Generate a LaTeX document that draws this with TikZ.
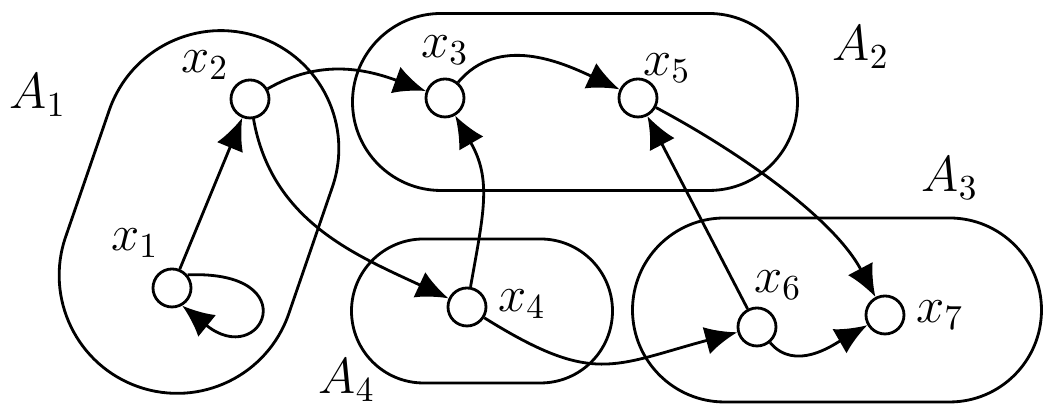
\documentclass[tikz,border=0pt]{standalone}
\usetikzlibrary{arrows.meta,shapes.misc}
\begin{document}
\begin{tikzpicture}[
    x=0.1mm, y=0.1mm,
    line width=0.8pt,
    region/.style={draw=black, rounded rectangle, inner sep=0pt},
    vertex/.style={circle, draw=black, fill=white, inner sep=0pt, minimum size=3.8mm},
    lbl/.style={font=\Large, inner sep=0pt},
    edge/.style={-{Latex[length=3.2mm, width=2.8mm]}}
]
\useasboundingbox (0,0) rectangle (1043,405);

% Sets
\node[region, minimum width=37mm, minimum height=23.6mm, rotate=71] (R1) at (199,193) {};
\node[region, minimum width=44.5mm, minimum height=17.7mm] (R2) at (575,303) {};
\node[region, minimum width=40.9mm, minimum height=18.4mm] (R3) at (837,95) {};
\node[region, minimum width=26.1mm, minimum height=14.4mm] (R4) at (482,94) {};

\node[lbl] (A1) at (38,310) {$A_1$};
\node[lbl] (A2) at (861,358) {$A_2$};
\node[lbl] (A3) at (950,227) {$A_3$};
\node[lbl] (A4) at (347,25) {$A_4$};

% Vertices
\foreach \name/\x/\y in {x1/172/117, x2/250/306, x3/445/307, x4/467/98,
                         x5/638/307, x6/757/78, x7/885/90} {
    \node[vertex] (\name) at (\x,\y) {};
}

\node[lbl] (l1) at (135,162) {$x_1$};
\node[lbl] (l2) at (205,340) {$x_2$};
\node[lbl] (l3) at (445,355) {$x_3$};
\node[lbl] (l4) at (522,101) {$x_4$};
\node[lbl] (l5) at (667,337) {$x_5$};
\node[lbl] (l6) at (778,120) {$x_6$};
\node[lbl] (l7) at (940,90) {$x_7$};

% Arcs
\draw[edge] (x1) -- (x2);
\draw[edge] (x1.40) .. controls +(120,5) and +(80,-65) .. (x1.-60);
\draw[edge] (x2) to[out=30, in=160] (x3);
\draw[edge] (x2) to[out=-80, in=155] (x4);
\draw[edge] (x3) to[out=50, in=155] (x5);
\draw[edge] (x4) to[out=80, in=-60, looseness=1.1] (x3);
\draw[edge] (x6) -- (x5);
\draw[edge] (x5) to[out=-28, in=118, looseness=0.8] (x7);
\draw[edge] (x4) to[out=-32, in=195, looseness=1.3] (x6);
\draw[edge] (x6) to[out=-50, in=-150] (x7);
\end{tikzpicture}
\end{document}
